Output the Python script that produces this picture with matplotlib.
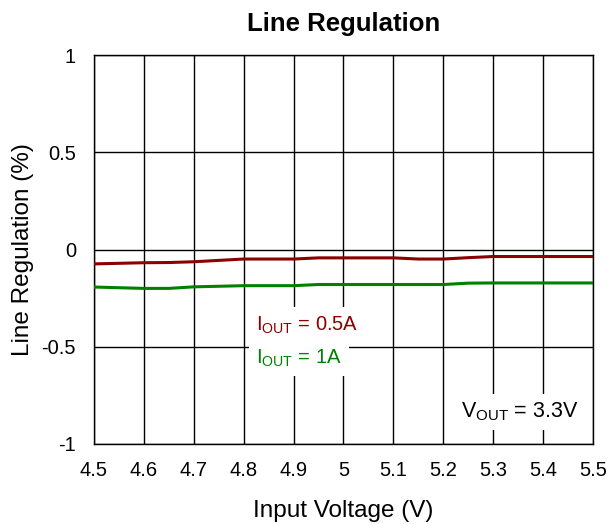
import numpy as np
import matplotlib.pyplot as plt

plt.rcParams['font.family'] = ['Liberation Sans', 'DejaVu Sans']

# data
vin = [4.5, 4.6, 4.65, 4.7, 4.8, 4.9, 4.95, 5.0, 5.1, 5.15, 5.2, 5.25, 5.3, 5.4, 5.5]
reg_05a = [-0.074, -0.068, -0.067, -0.063, -0.049, -0.049, -0.043, -0.043, -0.043, -0.049, -0.049, -0.042, -0.036, -0.036, -0.036]
reg_1a = [-0.193, -0.200, -0.200, -0.192, -0.186, -0.186, -0.180, -0.180, -0.180, -0.180, -0.180, -0.173, -0.172, -0.172, -0.172]

xticks = np.round(np.arange(4.5, 5.51, 0.1), 1)
xlabels = ['4.5', '4.6', '4.7', '4.8', '4.9', '5', '5.1', '5.2', '5.3', '5.4', '5.5']
yticks = [-1, -0.5, 0, 0.5, 1]
ylabels = ['-1', '-0.5', '0', '0.5', '1']

fig = plt.figure(figsize=(6.08, 5.24), dpi=100)
ax = fig.add_axes([0.1546, 0.1527, 0.8207, 0.7423])

ax.plot(vin, reg_05a, color='#8B0000', lw=2.2, zorder=3)
ax.plot(vin, reg_1a, color='#008000', lw=2.2, zorder=3)

ax.set_xlim(4.5, 5.5)
ax.set_ylim(-1, 1)
ax.set_xticks(xticks)
ax.set_xticklabels(xlabels)
ax.set_yticks(yticks)
ax.set_yticklabels(ylabels)
ax.tick_params(axis='x', length=0, labelsize=14.5, pad=12)
ax.tick_params(axis='y', length=0, labelsize=14.5, pad=13)
ax.grid(True, color='black', lw=1.0)
for s in ax.spines.values():
    s.set_linewidth(1.0)

ax.set_title('Line Regulation', fontsize=18.5, fontweight='bold', pad=17)
ax.set_xlabel('Input Voltage (V)', fontsize=17.5, labelpad=15)
ax.set_ylabel('Line Regulation (%)', fontsize=17.5, labelpad=5)

box = dict(facecolor='white', edgecolor='none', pad=5)
ax.text(4.825, -0.388, r'I$_{\mathregular{OUT}}$ = 0.5A', color='#8B0000', fontsize=14.5,
        va='center', ha='left', bbox=box)
ax.text(4.825, -0.558, r'I$_{\mathregular{OUT}}$ = 1A', color='#008000', fontsize=14.5,
        va='center', ha='left', bbox=box)
ax.text(5.235, -0.835, r'V$_{\mathregular{OUT}}$ = 3.3V', color='black', fontsize=15.5,
        va='center', ha='left', bbox=box)

fig.savefig('out.png', dpi=100)
